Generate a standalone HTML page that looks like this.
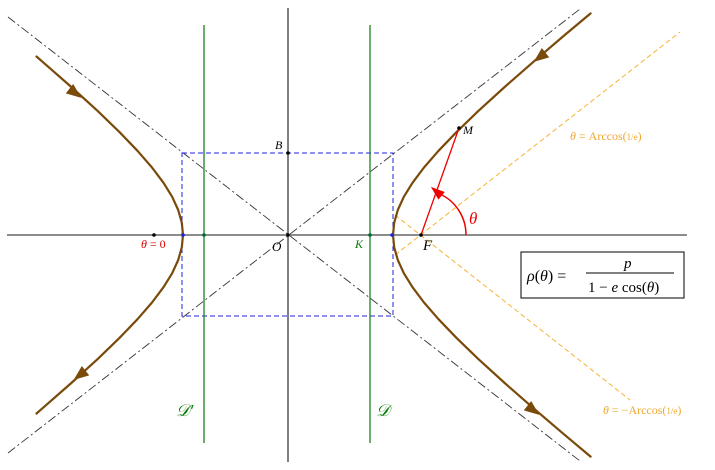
<!DOCTYPE html>
<html><head><meta charset="utf-8"><style>
html,body{margin:0;padding:0;background:#fff;}
svg{display:block;}
text{font-family:"Liberation Serif",serif;}
</style></head><body>
<svg width="715" height="470" viewBox="0 0 715 470" xmlns="http://www.w3.org/2000/svg">
<line x1="7" y1="235" x2="687" y2="235" stroke="#666" stroke-width="1.6"/>
<line x1="288" y1="8" x2="288" y2="462" stroke="#000" stroke-width="1"/>
<line x1="8" y1="17" x2="580" y2="461" stroke="#333" stroke-width="0.9" stroke-dasharray="9,3,2,3"/>
<line x1="8" y1="453" x2="580" y2="9" stroke="#333" stroke-width="0.9" stroke-dasharray="9,3,2,3"/>
<rect x="182" y="153" width="211" height="163" fill="none" stroke="#2222dd" stroke-width="1" stroke-dasharray="5,3"/>
<line x1="204" y1="25" x2="204" y2="443" stroke="#0a7a0a" stroke-width="1.2"/>
<line x1="370" y1="25" x2="370" y2="443" stroke="#0a7a0a" stroke-width="1.2"/>
<line x1="395" y1="255" x2="680" y2="32" stroke="#f5b335" stroke-width="1" stroke-dasharray="5,3"/>
<line x1="395" y1="215" x2="630" y2="400" stroke="#f5b335" stroke-width="1" stroke-dasharray="5,3"/>
<g fill="none" stroke="#7a4a0a" stroke-width="2.2" stroke-linejoin="round" stroke-linecap="round">
<polyline points="590.6,13.4 563.7,35.9 535,60.4 504.1,87.5 478.1,111.2 456.4,132.2 438.5,150.8 423.9,167.6 412.5,182.8 403.8,196.8 397.8,210 394.2,222.7 393,235 394.2,247.3 397.8,260 403.8,273.2 412.5,287.2 423.9,302.4 438.5,319.2 456.4,337.8 478.1,358.8 504.1,382.5 535,409.6 563.7,434.1 590.6,456.6"/>
<polyline points="36.5,56.5 41,60.4 71.9,87.5 97.9,111.2 119.6,132.2 137.5,150.8 152.1,167.6 163.5,182.8 172.2,196.8 178.2,210 181.8,222.7 183,235 181.8,247.3 178.2,260 172.2,273.2 163.5,287.2 152.1,302.4 137.5,319.2 119.6,337.8 97.9,358.8 71.9,382.5 41,409.6 36.5,413.5"/>
</g>
<g fill="#7a4a0a">
<polygon points="8,0 -7,-6 -7,6" transform="translate(540,57) rotate(142)"/>
<polygon points="8,0 -7,-6 -7,6" transform="translate(533,410) rotate(38)"/>
<polygon points="8,0 -7,-6 -7,6" transform="translate(75,93) rotate(38)"/>
<polygon points="8,0 -7,-6 -7,6" transform="translate(80,375) rotate(142)"/>
</g>
<line x1="421" y1="235" x2="459" y2="128" stroke="#e00" stroke-width="1.3"/>
<path d="M466,235 A45,45 0 0 0 440,194" fill="none" stroke="#e00" stroke-width="1.5"/>
<polygon points="8,0 -6,-5 -6,5" fill="#e00" transform="translate(437,192) rotate(-140)"/>
<g fill="#000">
<circle cx="154" cy="235" r="1.8"/><circle cx="183" cy="235" r="1.8" fill="#22d"/>
<circle cx="204" cy="235" r="1.8" fill="#063"/><circle cx="370" cy="235" r="1.8" fill="#063"/>
<circle cx="392" cy="235" r="1.8" fill="#22d"/><circle cx="421" cy="235" r="1.8"/>
<circle cx="288" cy="153" r="1.8"/><circle cx="288" cy="235" r="1.8"/>
<circle cx="459" cy="128" r="1.8"/>
</g>
<text x="275" y="149" font-size="12" font-style="italic">B</text>
<text x="272" y="251" font-size="13" font-style="italic">O</text>
<text x="355" y="248" font-size="12" font-style="italic" fill="#0a7a0a">K</text>
<text x="423" y="250" font-size="15" font-style="italic">F</text>
<text x="463" y="134" font-size="12" font-style="italic">M</text>
<text x="469" y="224" font-size="17" font-style="italic" fill="#e00">θ</text>
<text x="141" y="248" font-size="12" fill="#d00"><tspan font-style="italic">θ</tspan> = 0</text>
<text x="176" y="416" font-size="17" font-style="italic" fill="#0a7a0a">𝒟′</text>
<text x="376" y="416" font-size="17" font-style="italic" fill="#0a7a0a">𝒟</text>
<text x="570" y="140" font-size="12" fill="#f0a830"><tspan font-style="italic">θ</tspan> = Arccos(<tspan font-size="9">1/e</tspan>)</text>
<text x="603" y="414" font-size="12" fill="#f0a830"><tspan font-style="italic">θ</tspan> = −Arccos(<tspan font-size="9">1/e</tspan>)</text>
<rect x="521" y="252" width="163" height="46" fill="#fff" stroke="#000" stroke-width="1"/>
<text x="527" y="281" font-size="16"><tspan font-style="italic">ρ</tspan>(<tspan font-style="italic">θ</tspan>) =</text>
<text x="624" y="268" font-size="15" font-style="italic">p</text>
<line x1="586" y1="273" x2="674" y2="273" stroke="#000" stroke-width="1"/>
<text x="588" y="292" font-size="15">1 − <tspan font-style="italic">e</tspan> cos(<tspan font-style="italic">θ</tspan>)</text>
</svg>
</body></html>
